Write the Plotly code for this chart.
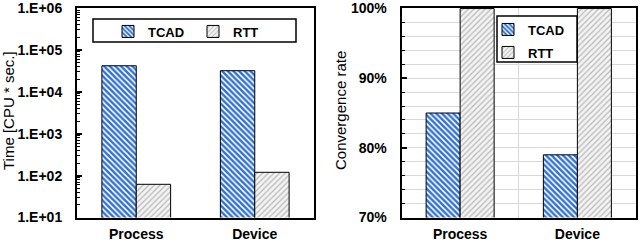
import plotly.graph_objects as go

categories = ["Process", "Device"]
series_names = ["TCAD", "RTT"]
time_tcad = [42000, 32000]
time_rtt = [62, 120]
conv_tcad = [0.85, 0.79]
conv_rtt = [1.00, 1.00]
log_tickvals = [10, 100, 1000, 10000, 100000, 1000000]
log_ticktext = ["1.E+01", "1.E+02", "1.E+03", "1.E+04", "1.E+05", "1.E+06"]
pct_tickvals = [0.7, 0.8, 0.9, 1.0]
pct_ticktext = ["70%", "80%", "90%", "100%"]

W, H = 640, 242
FONT = "Arial, Liberation Sans, sans-serif"

def px(x):
    return x / W

def py(y):
    return 1 - y / H

tcad_marker = dict(color="#2f6fd0", line=dict(color="black", width=1),
                   pattern=dict(shape="\\", fgcolor="white", bgcolor="#2f6fd0", size=4, solidity=0.4))
rtt_marker = dict(color="#f0f0f0", line=dict(color="black", width=1),
                  pattern=dict(shape="/", fgcolor="#b8b8b8", bgcolor="#f4f4f4", size=4, solidity=0.3))

fig = go.Figure()
fig.add_trace(go.Bar(x=categories, y=time_tcad, name=series_names[0], marker=tcad_marker,
                     xaxis="x", yaxis="y", legend="legend"))
fig.add_trace(go.Bar(x=categories, y=time_rtt, name=series_names[1], marker=rtt_marker,
                     xaxis="x", yaxis="y", legend="legend2"))
fig.add_trace(go.Bar(x=categories, y=conv_tcad, name=series_names[0], marker=tcad_marker,
                     xaxis="x2", yaxis="y2", legend="legend3"))
fig.add_trace(go.Bar(x=categories, y=conv_rtt, name=series_names[1], marker=rtt_marker,
                     xaxis="x2", yaxis="y2", legend="legend4"))

tickfont = dict(family=FONT, size=14, color="black", weight="bold")
leg_common = dict(font=dict(family=FONT, size=13, color="black", weight="bold"),
                  bgcolor="rgba(0,0,0,0)", borderwidth=0, xanchor="left", yanchor="middle")

fig.update_layout(
    template="none",
    width=W, height=H,
    margin=dict(l=0, r=0, t=0, b=0, autoexpand=False),
    paper_bgcolor="white", plot_bgcolor="white",
    barmode="group", bargap=0.42, bargroupgap=0,
    showlegend=True,
    xaxis=dict(domain=[px(77), px(314)], anchor="y", showline=True, linecolor="black", linewidth=2,
               mirror=True, ticks="", tickfont=tickfont, ticklabelstandoff=3, showgrid=False,
               automargin=False),
    yaxis=dict(domain=[py(217.5), py(8)], anchor="x", type="log", range=[1, 6.002],
               tickvals=log_tickvals, ticktext=log_ticktext, tickfont=tickfont,
               ticks="inside", ticklen=5, tickcolor="black", tickwidth=1.5,
               minor=dict(ticks="inside", ticklen=3, dtick="D1", tickcolor="black", tickwidth=1,
                          showgrid=False),
               showline=True, linecolor="black", linewidth=2, mirror=True, showgrid=False,
               zeroline=False, ticklabelstandoff=10, automargin=False, ticklabeloverflow="allow"),
    xaxis2=dict(domain=[px(401.5), px(636)], anchor="y2", showline=True, linecolor="black", linewidth=2,
                mirror=True, ticks="", tickfont=tickfont, ticklabelstandoff=3,
                showgrid=True, gridcolor="#d9d9d9", gridwidth=1, tickson="boundaries",
                automargin=False),
    yaxis2=dict(domain=[py(217.5), py(8)], anchor="x2", range=[0.70, 1.0008],
                tickvals=pct_tickvals, ticktext=pct_ticktext, tickfont=tickfont,
                ticks="inside", ticklen=5, tickcolor="black", tickwidth=1.5,
                minor=dict(ticks="inside", ticklen=3, dtick=0.02, tickcolor="black", tickwidth=1,
                           showgrid=True, gridcolor="#d9d9d9", gridwidth=1),
                showline=True, linecolor="black", linewidth=2, mirror=True,
                showgrid=True, gridcolor="#d9d9d9", gridwidth=1, zeroline=False, ticklabelstandoff=10,
                automargin=False, ticklabeloverflow="allow"),
    legend=dict(x=px(108), y=py(31.5), **leg_common),
    legend2=dict(x=px(193), y=py(31.5), **leg_common),
    legend3=dict(x=px(488), y=py(29.5), **leg_common),
    legend4=dict(x=px(488), y=py(52.5), **leg_common),
    shapes=[
        dict(type="rect", xref="paper", yref="paper", x0=px(93), x1=px(296), y0=py(42), y1=py(19),
             line=dict(color="black", width=1.5), fillcolor="white", layer="above"),
        dict(type="rect", xref="paper", yref="paper", x0=px(497), x1=px(577), y0=py(62), y1=py(16),
             line=dict(color="black", width=1.5), fillcolor="white", layer="above"),
    ],
    annotations=[
        dict(text="Time [CPU * sec.]", x=px(8), y=py(111), xref="paper", yref="paper",
             textangle=-90, showarrow=False, xanchor="center", yanchor="middle",
             font=dict(family=FONT, size=15, color="black")),
        dict(text="Convergence rate", x=px(340), y=py(111), xref="paper", yref="paper",
             textangle=-90, showarrow=False, xanchor="center", yanchor="middle",
             font=dict(family=FONT, size=15, color="black")),
    ],
)

fig.write_html("out.html", config={"displayModeBar": False},
               post_script="document.body.style.margin='0';document.body.style.padding='0';")
